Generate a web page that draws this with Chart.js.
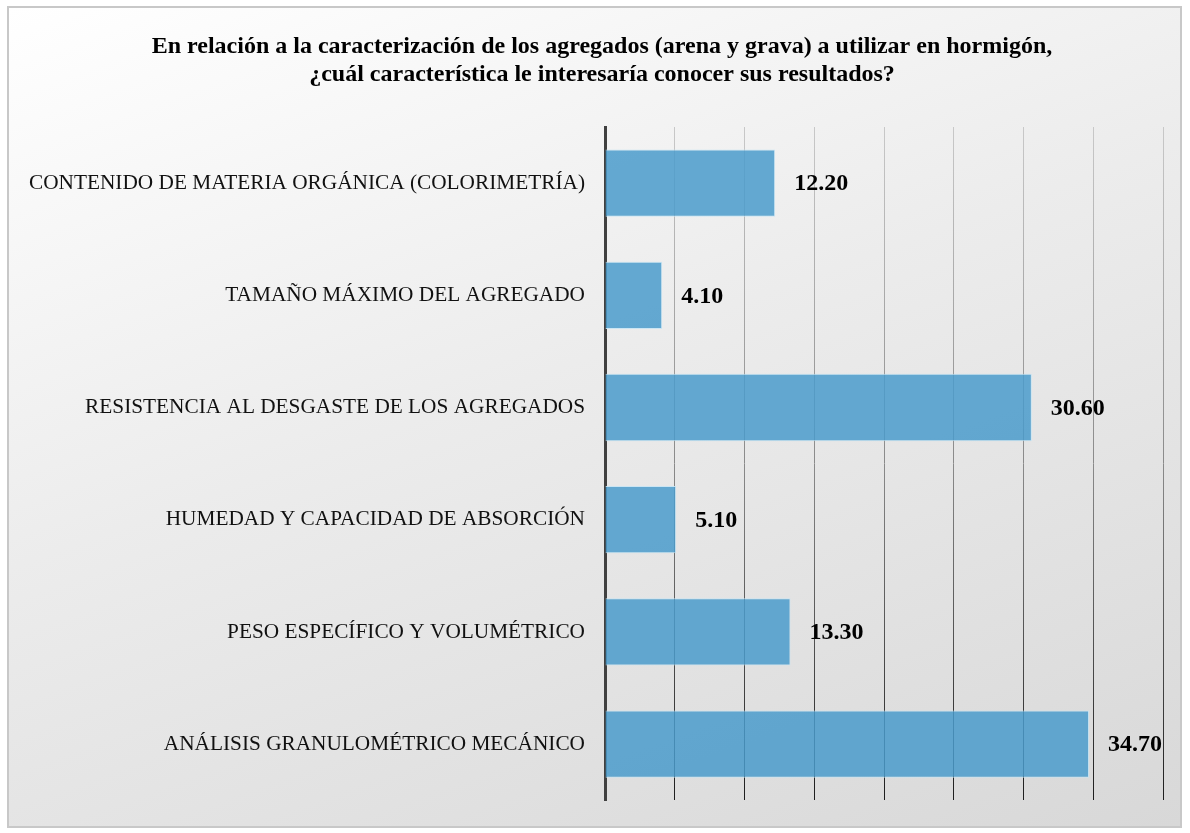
<!DOCTYPE html>
<html lang="es">
<head>
    <meta charset="UTF-8">
    <title>Caracterización de los agregados</title>
    <script src="https://cdn.jsdelivr.net/npm/chart.js"></script>
    <style>
        body {
            margin: 0;
            width: 1190px;
            height: 833px;
            position: relative;
            background: #ffffff;
        }
        .frame {
            position: absolute;
            left: 7px;
            top: 6px;
            width: 1171px;
            height: 818px;
            border: 2px solid #c8c8c8;
            background: linear-gradient(160deg, #ffffff 0%, #ececec 45%, #d8d8d8 100%);
        }
        canvas {
            position: absolute;
            left: 0;
            top: 0;
        }
    </style>
</head>
<body>
    <div class="frame"></div>
    <canvas id="chart" width="1190" height="833"></canvas>

    <script>
        const categories = [
            'CONTENIDO DE MATERIA ORGÁNICA (COLORIMETRÍA)',
            'TAMAÑO MÁXIMO DEL AGREGADO',
            'RESISTENCIA AL DESGASTE DE LOS AGREGADOS',
            'HUMEDAD Y CAPACIDAD DE ABSORCIÓN',
            'PESO ESPECÍFICO Y VOLUMÉTRICO',
            'ANÁLISIS GRANULOMÉTRICO MECÁNICO'
        ];
        const values = [12.20, 4.10, 30.60, 5.10, 13.30, 34.70];
        const titleLines = [
            'En relación a la caracterización de los agregados (arena y grava) a utilizar en hormigón,',
            '¿cuál característica le interesaría conocer sus resultados?'
        ];

        // título (centrado un poco a la derecha, como en el original)
        const chartTitle = {
            id: 'chartTitle',
            afterDraw(chart) {
                const ctx = chart.ctx;
                ctx.save();
                ctx.font = 'bold 24px "Liberation Serif"';
                ctx.fillStyle = '#000';
                ctx.textAlign = 'center';
                ctx.textBaseline = 'middle';
                titleLines.forEach((line, i) => {
                    ctx.fillText(line, 602, 47 + i * 28);
                });
                ctx.restore();
            }
        };

        // etiquetas de valor al final de cada barra
        const valueLabels = {
            id: 'valueLabels',
            afterDatasetsDraw(chart) {
                const ctx = chart.ctx;
                const meta = chart.getDatasetMeta(0);
                ctx.save();
                ctx.font = 'bold 24px "Liberation Serif"';
                ctx.fillStyle = '#000';
                ctx.textAlign = 'left';
                ctx.textBaseline = 'middle';
                meta.data.forEach((bar, i) => {
                    ctx.fillText(values[i].toFixed(2), bar.x + 19, bar.y + 1);
                });
                ctx.restore();
            }
        };

        function gridGradient(context) {
            const chart = context.chart;
            const area = chart.chartArea;
            if (!area) return '#999';
            const g = chart.ctx.createLinearGradient(0, area.top, 0, area.bottom);
            g.addColorStop(0, '#c8c8c8');
            g.addColorStop(0.5, '#8a8a8a');
            g.addColorStop(1, '#1e1e1e');
            return g;
        }

        new Chart(document.getElementById('chart'), {
            type: 'bar',
            data: {
                labels: categories,
                datasets: [{
                    data: values,
                    backgroundColor: 'rgba(74, 155, 203, 0.85)',
                    borderColor: 'rgba(200, 228, 244, 0.9)',
                    borderWidth: 1,
                    barPercentage: 0.6,
                    categoryPercentage: 1
                }]
            },
            options: {
                indexAxis: 'y',
                responsive: false,
                animation: false,
                layout: {
                    padding: { left: 0, right: 27, top: 127, bottom: 24 }
                },
                plugins: {
                    legend: { display: false },
                    tooltip: { enabled: false },
                    title: { display: false }
                },
                scales: {
                    x: {
                        min: 0,
                        max: 40,
                        ticks: { display: false, stepSize: 5 },
                        grid: { color: gridGradient, lineWidth: 1, drawTicks: false },
                        border: { display: false },
                        afterFit(scale) { scale.height = 0; }
                    },
                    y: {
                        grid: { display: false, drawTicks: false },
                        border: { display: true, color: '#404040', width: 3 },
                        ticks: {
                            color: '#111',
                            padding: 20,
                            font: { family: 'Liberation Serif', size: 21.3 }
                        },
                        afterFit(scale) { scale.width = 605; }
                    }
                }
            },
            plugins: [valueLabels, chartTitle]
        });
    </script>
</body>
</html>
